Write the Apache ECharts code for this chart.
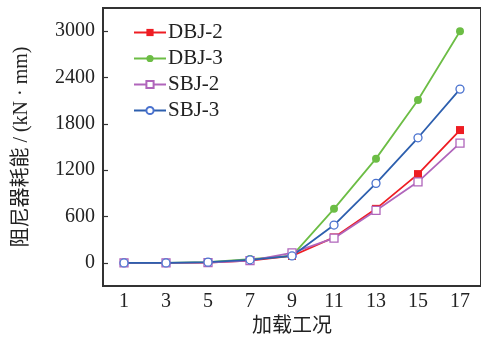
<!DOCTYPE html>
<html>
<head>
<meta charset="utf-8">
<title></title>
<script src="https://cdn.jsdelivr.net/npm/echarts@6/dist/echarts.min.js"></script>
<style>
  html, body { margin: 0; padding: 0; background: #fff; }
  #main { width: 481px; height: 342px; }
</style>
</head>
<body>
<div id="main"></div>
<script type="text/javascript">
	var cases = ['1', '3', '5', '7', '9', '11', '13', '15', '17'];
	var yTicks = [0, 600, 1200, 1800, 2400, 3000];
	var dbj2 = [0, 0, 5, 30, 90, 330, 700, 1150, 1720];
	var dbj3 = [0, 0, 10, 50, 90, 700, 1350, 2110, 3000];
	var sbj2 = [0, 0, 5, 30, 130, 320, 680, 1050, 1550];
	var sbj3 = [0, 0, 10, 40, 90, 490, 1030, 1620, 2250];

	// 西文用衬线体, 中文回退到 CJK
	var font = '"Liberation Serif", "Noto Sans CJK SC"';

	function mkSeries(name, data, color, symbol, hollow, lineColor){
		return {
			name: name,
			type: 'line',
			data: data,
			symbol: symbol,
			symbolSize: 8,
			showSymbol: true,
			lineStyle: { color: lineColor || color, width: 1.8 },
			itemStyle: {
				color: hollow ? '#fff' : color,
				borderColor: color,
				borderWidth: hollow ? 1.3 : 0
			},
			emphasis: { disabled: true }
		};
	}

	var myChart = echarts.init(document.getElementById('main'));
	var option = {
		animation: false,
		// 右边框画到画布外, 只留上边框
		grid: { left: 103, right: -3, top: 8, bottom: 54, show: true, borderColor: '#333', borderWidth: 2 },
		legend: {
			left: 128,
			top: 17,
			orient: 'vertical',
			itemWidth: 32,
			itemHeight: 9,
			itemGap: 5,
			textStyle: { fontFamily: font, fontSize: 21, color: '#222', padding: [0, 0, 0, -3] },
			data: ['DBJ-2', 'DBJ-3', 'SBJ-2', 'SBJ-3']
		},
		xAxis: {
			type: 'category',
			data: cases,
			boundaryGap: true,
			name: '加载工况',
			nameLocation: 'middle',
			nameGap: 30,
			nameTextStyle: { fontFamily: font, fontSize: 20, color: '#222' },
			axisLine: { onZero: false, lineStyle: { color: '#333', width: 1.5 } },
			axisTick: { inside: true, alignWithLabel: true, length: 5, lineStyle: { color: '#333', width: 1.2 } },
			axisLabel: { fontFamily: font, fontSize: 20, color: '#222', margin: 6 },
			splitLine: { show: false }
		},
		yAxis: {
			type: 'value',
			min: -300,
			max: 3300,
			name: '阻尼器耗能 / (kN · mm)',
			nameLocation: 'middle',
			nameGap: 71,
			nameRotate: 90,
			nameTextStyle: { fontFamily: font, fontSize: 20, color: '#222' },
			axisLine: { show: true, onZero: false, lineStyle: { color: '#333', width: 1.5 } },
			axisTick: { show: true, inside: true, length: 5, customValues: yTicks, lineStyle: { color: '#333', width: 1.2 } },
			axisLabel: {
				fontFamily: font, fontSize: 20, color: '#222', margin: 8, customValues: yTicks,
				formatter: function (v) { return String(v); }
			},
			splitLine: { show: false }
		},
		series: [
			mkSeries('DBJ-2', dbj2, '#ee1d23', 'rect', false),
			mkSeries('DBJ-3', dbj3, '#6cbd45', 'circle', false),
			mkSeries('SBJ-2', sbj2, '#b065bb', 'rect', true),
			mkSeries('SBJ-3', sbj3, '#4a72cf', 'circle', true, '#2d5fae')
		]
	};
	myChart.setOption(option);
</script>
</body>
</html>
